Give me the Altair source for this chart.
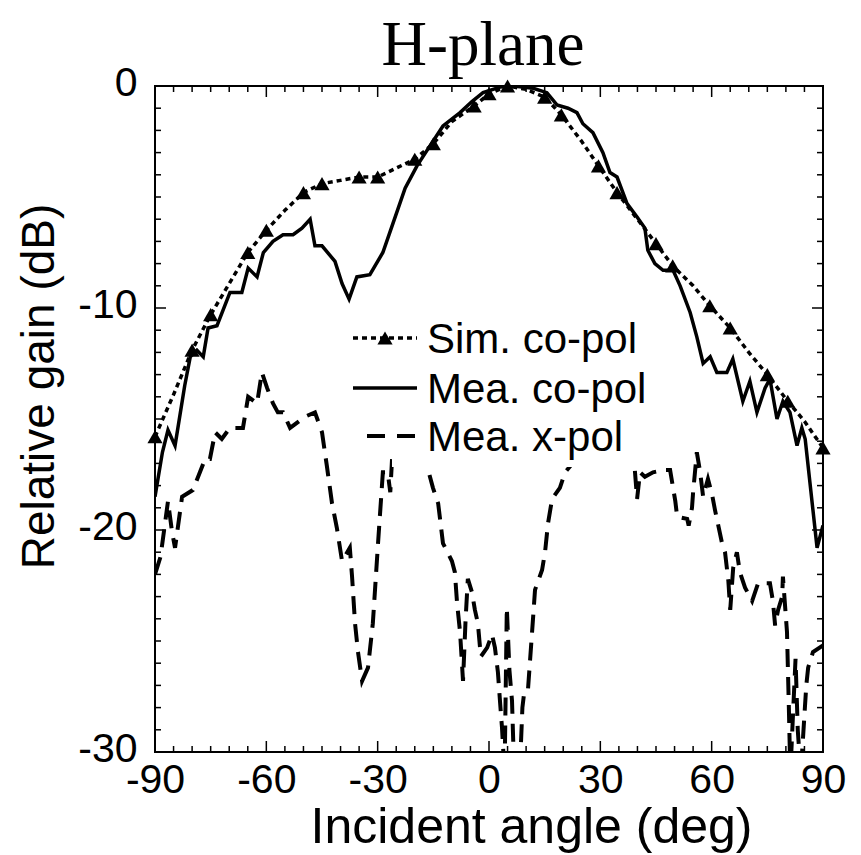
import altair as alt
import pandas as pd

# ---------------- data ----------------
sim_angle = [-90, -85, -80, -75, -70, -65, -60, -55, -50, -45, -40, -35, -30,
             -20, -15, -10, -4, 0, 5, 10, 15, 19.5, 25, 29.5, 34.5, 40, 45,
             49.5, 55, 59.5, 65, 70, 75, 80.5, 85, 90]
sim_gain = [-15.8, -13.9, -11.9, -10.3, -8.9, -7.5, -6.5, -5.6, -4.8, -4.4, -4.25,
            -4.1, -4.1, -3.3, -2.6, -1.6, -0.9, -0.35, 0.0, -0.15, -0.5, -1.3,
            -2.5, -3.6, -4.8, -6.0, -7.1, -8.1, -9.0, -9.9, -10.9, -12.0, -13.0,
            -14.2, -15.1, -16.3]
sim_marker_angles = [-90, -80, -75, -65, -60, -50, -45, -35, -30, -20, -15, -4,
                     0, 5, 15, 19.5, 29.5, 34.5, 45, 49.5, 59.5, 65, 75, 80.5, 90]

co_angle = [-90, -88, -86.5, -84.6, -82, -80.5, -78.7, -77, -75.7, -73.3, -69.8,
            -66.6, -64.9, -62.5, -60.8, -58.2, -55.5, -52.8, -50.4, -48.2, -46.9,
            -45, -41.5, -39.6, -37.7, -35.6, -32.1, -28.6, -25.9, -22.6, -19.4,
            -16.7, -12.4, -7.8, -4.6, -1.6, 3, 6.5, 11.9, 15.6, 18.3, 21.3, 23.7,
            25.3, 28, 30.7, 32.6, 34.5, 37.2, 39.9, 42, 42.8, 44.7, 46.9, 49.6,
            51.5, 54.2, 56, 57.7, 59.6, 61.4, 64.1, 65.7, 68.4, 70.3, 72.2, 74.4,
            75.7, 77.6, 79.2, 81.1, 83, 84.3, 85.2, 88.4, 90]
co_gain = [-18.5, -16.5, -15.5, -16.2, -13.5, -12.2, -11.9, -12.2, -10.9, -10.8,
           -9.3, -9.3, -8.2, -8.6, -7.5, -7.0, -6.7, -6.7, -6.4, -6.0, -7.2, -7.2,
           -7.9, -8.9, -9.6, -8.6, -8.5, -7.5, -6.2, -4.6, -3.6, -2.9, -1.8, -1.2,
           -0.7, -0.3, -0.05, 0.0, -0.1, -0.3, -0.85, -1.0, -1.2, -1.7, -2.1,
           -3.0, -3.9, -4.1, -5.3, -5.9, -6.4, -7.4, -8.0, -8.3, -8.3, -9.0,
           -10.2, -11.3, -12.5, -12.2, -12.9, -12.9, -12.3, -14.2, -13.3, -14.7,
           -13.6, -13.2, -15.0, -14.2, -14.7, -16.2, -15.4, -15.9, -20.8, -19.8]

x_angle = [-90, -88.5, -86.5, -85.4, -84.6, -82.7, -79.8, -77.9, -76.5, -75.2,
           -73.8, -72, -69.8, -66.3, -64.9, -62.5, -61.2, -59.8, -58.2, -56.9,
           -55.5, -53.6, -49.6, -46.9, -45, -43.7, -42.3, -41, -39.6, -37.5,
           -36.9, -36.1, -35.3, -34.2, -32.6, -31.3, -29.9, -28.6, -27.3, -26.6,
           -26.0, -22, -18, -16.4, -15.1, -13.7, -12.4, -10, -9.2, -8.6, -7.8,
           -7.0, -6.3, -5.7, -4.6, -3.8, -3.0, -2.2, -0.5, 0.8, 1.6, 2.4, 3.0,
           3.5, 4.2, 4.8, 5.5, 6.2, 6.8, 8.4, 9.0, 9.5, 10.5, 11.9, 12.4, 14.3,
           15.1, 15.9, 17, 19.1, 20.5, 25, 30, 35, 39.3, 39.9, 40.7, 42, 44.2, 47,
           48.8, 49.6, 50.2, 50.7, 53.4, 53.8, 54.7, 55, 56, 56.9, 57.7, 59, 60.1,
           60.9, 62.8, 63.6, 64.5, 65, 65.8, 66.8, 67.6, 69, 70.9, 72.5, 75.7,
           76.5, 77.1, 77.9, 79, 79.2, 80.3, 80.8, 81.2, 82, 82.6, 83.2, 84, 85.5,
           86, 87.3, 90]
x_gain = [-22.0, -21.2, -18.7, -20.1, -20.8, -18.5, -18.2, -17.4, -16.8, -16.8,
          -15.6, -15.9, -15.4, -15.4, -14.0, -14.3, -12.9, -13.6, -14.3, -14.7,
          -14.7, -15.4, -14.9, -14.7, -15.6, -17.1, -18.8, -19.9, -21.4, -20.8,
          -22.1, -24.2, -25.5, -26.8, -26.2, -24.2, -20.6, -17.4, -17.4, -18.3,
          -16.4, -16.2, -16.4, -17.3, -18.1, -18.8, -20.6, -21.4, -21.9, -23.3,
          -24.6, -26.8, -24.0, -22.2, -22.8, -23.6, -24.2, -25.7, -25.3, -24.7,
          -25.3, -26.4, -27.8, -28.9, -31.0, -23.5, -26.3, -27.7, -31.0, -30.5,
          -28.0, -27.3, -27.2, -23.9, -22.7, -21.8, -21.0, -19.7, -18.6, -18.1,
          -17.4, -16.5, -16.6, -16.6, -17.3, -18.6, -17.4, -17.6, -17.4, -17.3,
          -17.3, -18.1, -18.7, -19.4, -19.5, -19.8, -19.0, -18.3, -16.5, -17.4,
          -18.5, -17.7, -18.4, -19.1, -20.6, -21.0, -22.3, -23.6, -21.7, -21.0,
          -21.9, -22.6, -23.2, -22.4, -22.4, -23.2, -24.3, -23.6, -23.0, -22.1,
          -24.6, -28.0, -31.0, -28.0, -25.8, -29.0, -31.0, -27.0, -26.2, -25.5,
          -25.2]

legend_labels = ["Sim. co-pol", "Mea. co-pol", "Mea. x-pol"]
chart_title = "H-plane"
x_tick_values = [-90, -60, -30, 0, 30, 60, 90]
y_tick_values = [0, -10, -20, -30]
x_minor = list(range(-85, 90, 5))
y_minor = list(range(-29, 0, 1))

# ---------------- frames ----------------
sim_df = pd.DataFrame({"angle": sim_angle, "gain": sim_gain})
sim_df["marker"] = sim_df["angle"].isin(sim_marker_angles)
co_df = pd.DataFrame({"angle": co_angle, "gain": co_gain})
xp_df = pd.DataFrame({"angle": x_angle, "gain": x_gain})
xt_major = pd.DataFrame({"t": [v for v in x_tick_values if v not in (-90, 90)]})
xt_minor = pd.DataFrame({"t": [v for v in x_minor if v % 30 != 0]})
yt_major = pd.DataFrame({"t": [v for v in y_tick_values if v not in (0, -30)]})
yt_minor = pd.DataFrame({"t": [v for v in y_minor if v % 10 != 0]})
one = pd.DataFrame({"k": [0]})

W, H = 668, 666
FONT = "Liberation Sans"

xscale = alt.Scale(domain=[-90, 90], nice=False, zero=False)
yscale = alt.Scale(domain=[-30, 0], nice=False, zero=False)

xaxis = alt.Axis(values=x_tick_values, labelFontSize=41, labelFont=FONT,
                 labelColor="black", ticks=False, tickSize=0, domain=False,
                 grid=False, labelPadding=8, labelFlush=False,
                 labelExpr="'' + datum.value", labelOverlap=False,
                 title="Incident angle (deg)",
                 titleFont=FONT, titleFontSize=50, titleFontWeight="normal",
                 titleColor="black", titleX=376, titleY=90,
                 titleBaseline="alphabetic", titleAnchor="middle")
yaxis = alt.Axis(values=y_tick_values, labelFontSize=41, labelFont=FONT,
                 labelColor="black", ticks=False, tickSize=0, domain=False,
                 grid=False, labelPadding=18, labelOffset=-3, labelFlush=False,
                 labelExpr="'' + datum.value", labelOverlap=False,
                 title="Relative gain (dB)", titleFont=FONT, titleFontSize=46,
                 titleFontWeight="normal", titleColor="black", titleX=-102,
                 titleY=300, titleBaseline="alphabetic", titleAngle=-90,
                 titleAnchor="middle")

X = alt.X("angle:Q", scale=xscale, axis=xaxis)
Y = alt.Y("gain:Q", scale=yscale, axis=yaxis)

sim_line = alt.Chart(sim_df).mark_line(
    color="black", strokeWidth=3.5, strokeDash=[5, 4], clip=True
).encode(x=X, y=Y)

sim_pts = alt.Chart(sim_df).transform_filter("datum.marker").mark_point(
    shape="triangle-up", filled=True, size=230, color="black", opacity=1
).encode(x="angle:Q", y="gain:Q")

co_line = alt.Chart(co_df).mark_line(
    color="black", strokeWidth=3.5, clip=True
).encode(x="angle:Q", y="gain:Q")

xp_line = alt.Chart(xp_df).mark_line(
    color="black", strokeWidth=4, strokeDash=[18, 10], clip=True
).encode(x="angle:Q", y="gain:Q")

# ---- inward ticks on all four sides ----
def xticks(df, length):
    b = alt.Chart(df).mark_rule(color="black", strokeWidth=1.5).encode(
        x="t:Q", y=alt.value(H), y2=alt.value(H - length))
    t = alt.Chart(df).mark_rule(color="black", strokeWidth=1.5).encode(
        x="t:Q", y=alt.value(0), y2=alt.value(length))
    return b + t

def yticks(df, length):
    l = alt.Chart(df).mark_rule(color="black", strokeWidth=1.5).encode(
        y="t:Q", x=alt.value(0), x2=alt.value(length))
    r = alt.Chart(df).mark_rule(color="black", strokeWidth=1.5).encode(
        y="t:Q", x=alt.value(W), x2=alt.value(W - length))
    return l + r

ticks = xticks(xt_major, 11) + xticks(xt_minor, 6) + yticks(yt_major, 11) + yticks(yt_minor, 6)

# ---- legend (white box + samples + labels) ----
box = alt.Chart(one).mark_rect(color="white").encode(
    x=alt.value(237), x2=alt.value(497), y=alt.value(232), y2=alt.value(381))

rows = [252, 302, 350]
sym_x0, sym_x1, txt_x = 198, 262, 272

leg_sim = alt.Chart(one).mark_rule(color="black", strokeWidth=3.5, strokeDash=[5, 4]).encode(
    x=alt.value(sym_x0), x2=alt.value(sym_x1), y=alt.value(rows[0]))
leg_tri = alt.Chart(one).mark_point(shape="triangle-up", filled=True, size=230,
                                    color="black", opacity=1).encode(
    x=alt.value(230), y=alt.value(rows[0]))
leg_co = alt.Chart(one).mark_rule(color="black", strokeWidth=3.5).encode(
    x=alt.value(sym_x0), x2=alt.value(sym_x1), y=alt.value(rows[1]))
leg_xp = alt.Chart(one).mark_rule(color="black", strokeWidth=4, strokeDash=[18, 12]).encode(
    x=alt.value(sym_x0 + 14), x2=alt.value(sym_x1), y=alt.value(rows[2]))

leg_text = None
for i, lab in enumerate(legend_labels):
    t = alt.Chart(one).mark_text(
        text=lab, font=FONT, fontSize=42, align="left", baseline="middle",
        color="black"
    ).encode(x=alt.value(txt_x), y=alt.value(rows[i] + 2))
    leg_text = t if leg_text is None else leg_text + t

title_txt = alt.Chart(one).mark_text(
    text=chart_title, font="Liberation Serif", fontSize=63, align="center",
    baseline="alphabetic", color="black"
).encode(x=alt.value(328), y=alt.value(-21))

chart = alt.layer(
    sim_line, co_line, xp_line, sim_pts, box, leg_sim, leg_tri, leg_co, leg_xp,
    leg_text, ticks, title_txt
).properties(
    width=W, height=H,
    autosize=alt.AutoSizeParams(type="none"),
    padding={"left": 147, "top": 78, "right": 30, "bottom": 102},
).configure_view(stroke="black", strokeWidth=2)

chart.save("out.html", embed_options={"renderer": "svg", "actions": False})
